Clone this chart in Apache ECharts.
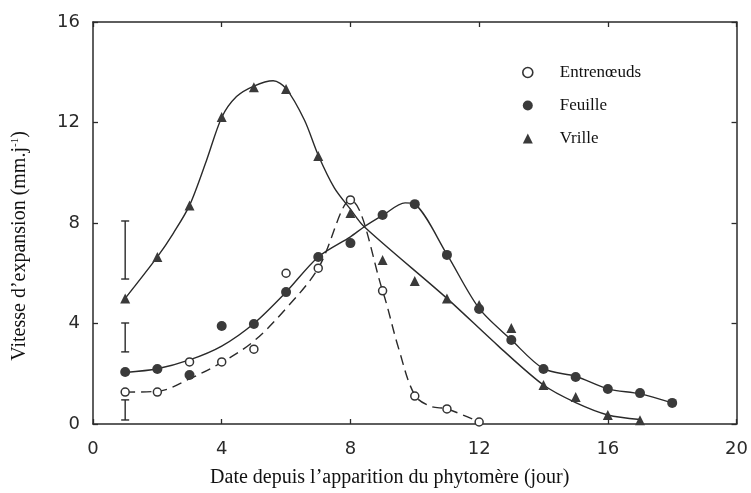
<!DOCTYPE html>
<html>
<head>
<meta charset="utf-8">
<script src="https://cdn.jsdelivr.net/npm/echarts@6/dist/echarts.min.js"></script>
<style>html,body{margin:0;padding:0;background:#fff;}#c{width:751px;height:493px;}</style>
</head>
<body>
<div id="c"></div>
<script>
// ---- Data ----
const entreX = [1, 2, 3, 4, 5, 6, 7, 8, 9, 10, 11, 12];
const entreY = [1.27, 1.27, 2.47, 2.47, 2.98, 6.0, 6.2, 8.92, 5.3, 1.11, 0.6, 0.08];

const feuilleX = [1, 2, 3, 4, 5, 6, 7, 8, 9, 10, 11, 12, 13, 14, 15, 16, 17, 18];
const feuilleY = [2.07, 2.19, 1.95, 3.9, 3.98, 5.25, 6.65, 7.2, 8.32, 8.75, 6.73, 4.58, 3.34, 2.19, 1.87, 1.39, 1.23, 0.84];

const vrilleX = [1, 2, 3, 4, 5, 6, 7, 8, 9, 10, 11, 12, 13, 14, 15, 16, 17];
const vrilleY = [5.0, 6.65, 8.7, 12.22, 13.4, 13.33, 10.67, 8.4, 6.53, 5.69, 5.0, 4.74, 3.82, 1.55, 1.07, 0.36, 0.15];

// fitted curves
const entreCurveX = [1, 2, 3, 4, 5, 6, 7, 8, 9, 9.5, 10, 10.5, 11, 12];
const entreCurveY = [1.27, 1.3, 1.8, 2.45, 3.3, 4.6, 6.2, 8.9, 5.3, 3.0, 1.15, 0.7, 0.6, 0.08];

const feuilleCurveX = [1, 2, 3, 4, 5, 6, 7, 8, 8.43, 9, 9.7, 10, 11, 12, 13, 14, 15, 16, 17, 18];
const feuilleCurveY = [2.05, 2.2, 2.55, 3.1, 4.0, 5.25, 6.65, 7.45, 7.85, 8.3, 8.8, 8.75, 6.75, 4.6, 3.35, 2.2, 1.9, 1.4, 1.2, 0.84];

const vrilleCurveX = [1, 2, 2.5, 3, 3.53, 4, 4.46, 5, 5.6, 6, 6.57, 7, 7.5, 8, 8.43, 11, 12.6, 14, 15, 16, 17];
const vrilleCurveY = [5.0, 6.65, 7.6, 8.7, 10.5, 12.2, 13.03, 13.45, 13.66, 13.35, 12.1, 10.7, 9.4, 8.55, 7.85, 5.0, 3.1, 1.55, 0.85, 0.36, 0.18];

// error bars at day 1
const errX = [1, 1, 1];
const errLow = [5.77, 2.87, 0.16];
const errHigh = [8.08, 4.02, 0.96];

const seriesNames = ['Entrenœuds', 'Feuille', 'Vrille'];
const xTickLabels = ['0', '4', '8', '12', '16', '20'];
const yTickLabels = ['0', '4', '8', '12', '16'];

// ---- Build ----
const zip = (xs, ys) => xs.map((x, i) => [x, ys[i]]);
const ink = '#2a2a2a';
const serif = '"Liberation Serif", "DejaVu Serif", serif';
const sans = '"DejaVu Sans", "Liberation Sans", sans-serif';

const chart = echarts.init(document.getElementById('c'), null, {renderer: 'canvas'});

const baseX = {
  type: 'value', min: 0, max: 20, interval: 4,
  axisLine: {show: true, onZero: false, lineStyle: {color: ink, width: 1.5}},
  axisTick: {show: true, inside: true, length: 5, lineStyle: {color: ink, width: 1.3}},
  splitLine: {show: false}
};
const baseY = {
  type: 'value', min: 0, max: 16, interval: 4,
  axisLine: {show: true, onZero: false, lineStyle: {color: ink, width: 1.5}},
  axisTick: {show: true, inside: true, length: 5, lineStyle: {color: ink, width: 1.3}},
  splitLine: {show: false}
};

const option = {
  backgroundColor: '#fff',
  animation: false,
  grid: {left: 93, right: 13, top: 22, bottom: 69, containLabel: false},
  xAxis: [
    Object.assign({}, baseX, {
      position: 'bottom',
      axisLabel: {show: true, color: ink, fontFamily: sans, fontSize: 18, margin: 16,
        formatter: v => xTickLabels[v / 4]},
      name: 'Date depuis l’apparition du phytomère (jour)',
      nameLocation: 'middle', nameGap: 44,
      nameTextStyle: {color: '#111', fontFamily: serif, fontSize: 20, padding: [0, 50, 0, 0]}
    }),
    Object.assign({}, baseX, {position: 'top', axisLabel: {show: false}})
  ],
  yAxis: [
    Object.assign({}, baseY, {
      position: 'left',
      axisLabel: {show: true, color: ink, fontFamily: sans, fontSize: 18, margin: 13,
        formatter: v => yTickLabels[v / 4]},
      name: '{n|Vitesse d’expansion (mm.j}{s|-1}{n|)}',
      nameLocation: 'middle', nameGap: 63,
      nameTextStyle: {color: '#111', fontFamily: serif, fontSize: 20, padding: [0, 46, 0, 0],
        rich: {
          n: {fontFamily: serif, fontSize: 20, color: '#111'},
          s: {fontFamily: serif, fontSize: 11, color: '#111', verticalAlign: 'top', padding: [0, 0, 9, 0]}
        }}
    }),
    Object.assign({}, baseY, {position: 'right', axisLabel: {show: false}})
  ],
  legend: {
    orient: 'vertical', left: 517, top: 59,
    itemWidth: 10, itemHeight: 10, itemGap: 16,
    textStyle: {fontFamily: serif, fontSize: 17, color: '#111', padding: [0, 0, 0, 22]},
    data: [
      {name: 'Entrenœuds', icon: 'circle', itemStyle: {color: '#fff', borderColor: '#333', borderWidth: 1.6}},
      {name: 'Feuille', icon: 'circle', itemStyle: {color: '#3a3a3a', borderWidth: 0}},
      {name: 'Vrille', icon: 'triangle', itemStyle: {color: '#3a3a3a', borderWidth: 0}}
    ]
  },
  series: [
    {
      name: 'curveEntre', type: 'line', smooth: 0.35, showSymbol: false, silent: true,
      data: zip(entreCurveX, entreCurveY),
      lineStyle: {color: ink, width: 1.4, type: [10, 6]}, z: 2
    },
    {
      name: 'curveFeuille', type: 'line', smooth: 0.3, showSymbol: false, silent: true,
      data: zip(feuilleCurveX, feuilleCurveY),
      lineStyle: {color: ink, width: 1.4}, z: 2
    },
    {
      name: 'curveVrille', type: 'line', smooth: 0.3, showSymbol: false, silent: true,
      data: zip(vrilleCurveX, vrilleCurveY),
      lineStyle: {color: ink, width: 1.4}, z: 2
    },
    {
      name: 'Entrenœuds', type: 'scatter', symbol: 'circle', symbolSize: 8,
      data: zip(entreX, entreY),
      itemStyle: {color: '#fff', borderColor: '#333', borderWidth: 1.5, opacity: 1}, z: 4
    },
    {
      name: 'Feuille', type: 'scatter', symbol: 'circle', symbolSize: 10,
      data: zip(feuilleX, feuilleY),
      itemStyle: {color: '#3a3a3a', opacity: 1}, z: 3
    },
    {
      name: 'Vrille', type: 'scatter', symbol: 'triangle', symbolSize: 10,
      data: zip(vrilleX, vrilleY),
      itemStyle: {color: '#3a3a3a', opacity: 1}, z: 3
    },
    {
      name: 'errors', type: 'custom', silent: true,
      data: errX.map((x, i) => [x, errLow[i], errHigh[i]]),
      renderItem: function (params, api) {
        const x = api.value(0);
        const lo = api.coord([x, api.value(1)]);
        const hi = api.coord([x, api.value(2)]);
        const w = 4;
        const st = {stroke: ink, lineWidth: 1.4};
        return {type: 'group', children: [
          {type: 'line', shape: {x1: lo[0], y1: lo[1], x2: hi[0], y2: hi[1]}, style: st},
          {type: 'line', shape: {x1: lo[0] - w, y1: lo[1], x2: lo[0] + w, y2: lo[1]}, style: st},
          {type: 'line', shape: {x1: hi[0] - w, y1: hi[1], x2: hi[0] + w, y2: hi[1]}, style: st}
        ]};
      },
      z: 2
    }
  ]
};
chart.setOption(option);
</script>
</body>
</html>
